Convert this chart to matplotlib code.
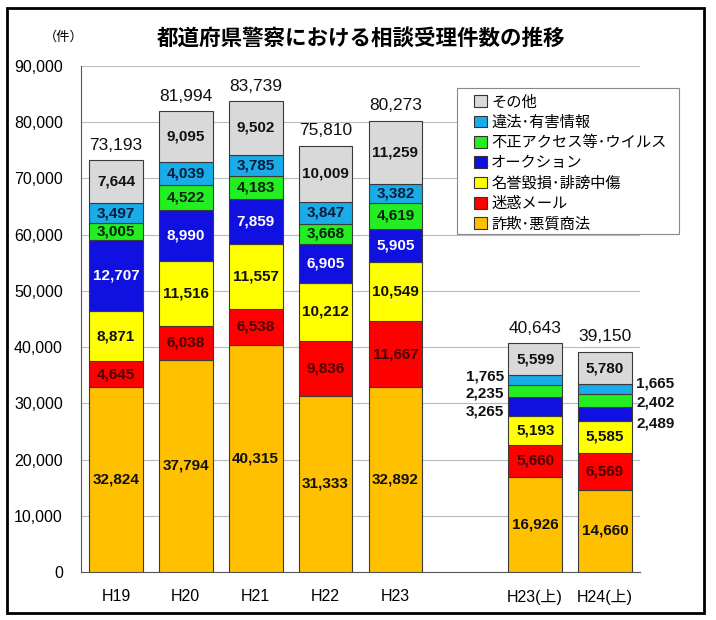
import matplotlib
matplotlib.use("Agg")
import matplotlib.pyplot as plt
from matplotlib.patches import Rectangle, Patch
import matplotlib.transforms as mtransforms
import numpy as np

plt.rcParams['font.family'] = ['Liberation Sans', 'Noto Sans CJK JP', 'DejaVu Sans']

categories = ["H19", "H20", "H21", "H22", "H23", "H23(上)", "H24(上)"]
x_pos = [0, 1, 2, 3, 4, 6, 7]

series_names = ["詐欺･悪質商法", "迷惑メール", "名誉毀損･誹謗中傷", "オークション",
                "不正アクセス等･ウイルス", "違法･有害情報", "その他"]
fraud   = [32824, 37794, 40315, 31333, 32892, 16926, 14660]
spam    = [4645, 6038, 6538, 9836, 11667, 5660, 6569]
defame  = [8871, 11516, 11557, 10212, 10549, 5193, 5585]
auction = [12707, 8990, 7859, 6905, 5905, 3265, 2489]
unauth  = [3005, 4522, 4183, 3668, 4619, 2235, 2402]
illegal = [3497, 4039, 3785, 3847, 3382, 1765, 1665]
other   = [7644, 9095, 9502, 10009, 11259, 5599, 5780]
totals  = [73193, 81994, 83739, 75810, 80273, 40643, 39150]

series = [fraud, spam, defame, auction, unauth, illegal, other]
colors = ["#FFC000", "#FF0000", "#FFFF00", "#1010E0", "#22EE22", "#1AACE8", "#D9D9D9"]
text_colors = ["#111111", "#4a0000", "#111111", "#FFFFFF", "#0a200a", "#0a1a3a", "#111111"]

fig = plt.figure(figsize=(7.16, 6.2), dpi=100)
W, H = 716, 620
ax = fig.add_axes([81 / W, 1 - 572 / H, (640 - 81) / W, (572 - 66) / H])

bottom = np.zeros(len(categories))
width = 0.77
for i, vals in enumerate(series):
    vals = np.array(vals, dtype=float)
    ax.bar(x_pos, vals, width, bottom=bottom, color=colors[i],
           edgecolor="#3a3a3a", linewidth=0.8, zorder=3, label=series_names[i])
    for j, v in enumerate(vals):
        cy = bottom[j] + v / 2
        outside = (j >= 5 and i in (3, 4, 5))
        if outside:
            if j == 5:
                offs = {5: -3, 4: 2, 3: 5}[i]
                tr = mtransforms.offset_copy(ax.transData, fig=fig, x=-31 * 0.72, y=-offs * 0.72, units='points')
                ax.text(x_pos[j], cy, f"{int(v):,}", transform=tr, ha="right", va="center",
                        fontsize=11, fontweight="bold", color="#111111", zorder=5)
            else:
                offs = {5: -6, 4: 2, 3: 9}[i]
                tr = mtransforms.offset_copy(ax.transData, fig=fig, x=31 * 0.72, y=-offs * 0.72, units='points')
                ax.text(x_pos[j], cy, f"{int(v):,}", transform=tr, ha="left", va="center",
                        fontsize=11, fontweight="bold", color="#111111", zorder=5)
        else:
            ax.text(x_pos[j], cy, f"{int(v):,}", ha="center", va="center",
                    fontsize=11, fontweight="bold", color=text_colors[i], zorder=5)
    bottom += vals

for j, t in enumerate(totals):
    tr = mtransforms.offset_copy(ax.transData, fig=fig, x=0, y=15 * 0.72, units='points')
    ax.text(x_pos[j], bottom[j], f"{t:,}", transform=tr, ha="center", va="center",
            fontsize=12.5, color="#111111", zorder=5)

ax.set_xlim(-0.5, 7.5)
ax.set_ylim(0, 90000)
ax.set_yticks(np.arange(0, 90001, 10000))
ax.set_yticklabels([f"{v:,}" for v in range(0, 90001, 10000)], fontsize=11.5)
ax.set_xticks(x_pos)
ax.set_xticklabels(categories, fontsize=11.5)
ax.tick_params(axis="both", length=0)
ax.tick_params(axis="y", pad=13)
ax.tick_params(axis="x", pad=12)
ax.grid(axis="y", color="#BBBBBB", linewidth=0.8, zorder=0)
ax.set_axisbelow(True)
for s in ["top", "right"]:
    ax.spines[s].set_visible(False)
ax.spines["left"].set_color("#555555")
ax.spines["bottom"].set_color("#555555")

handles = [Patch(facecolor=colors[i], edgecolor="#333333", linewidth=0.8) for i in range(6, -1, -1)]
labels = [series_names[i] for i in range(6, -1, -1)]
leg = fig.legend(handles, labels, loc="upper left",
                 bbox_to_anchor=(469 / W, 1 - 88 / H), bbox_transform=fig.transFigure,
                 fontsize=11, frameon=False,
                 handlelength=0.8, handleheight=0.8, handletextpad=0.3,
                 labelspacing=0.22, borderpad=0.35, borderaxespad=0)
for t in leg.get_texts():
    t.set_family(['Noto Sans CJK JP', 'DejaVu Sans'])
fig.patches.append(Rectangle((457 / W, 1 - 234 / H), (679 - 457) / W, (234 - 88) / H,
                             transform=fig.transFigure, fill=True, facecolor="white",
                             edgecolor="#888888", linewidth=0.8, zorder=0.5))

fig.text(361 / W, 1 - 38 / H, "都道府県警察における相談受理件数の推移", ha="center", va="center",
         fontsize=15.5, fontweight="bold", family=['Noto Sans CJK JP', 'DejaVu Sans'])
fig.text(64 / W, 1 - 37 / H, "（件）", ha="center", va="center", fontsize=9.5,
         family=['Noto Sans CJK JP', 'DejaVu Sans'])

fig.patches.append(Rectangle((7 / W, 1 - 613 / H), (704 - 7) / W, (613 - 8) / H,
                             transform=fig.transFigure, fill=False, edgecolor="black",
                             linewidth=2))

fig.savefig("out.png", dpi=100)
